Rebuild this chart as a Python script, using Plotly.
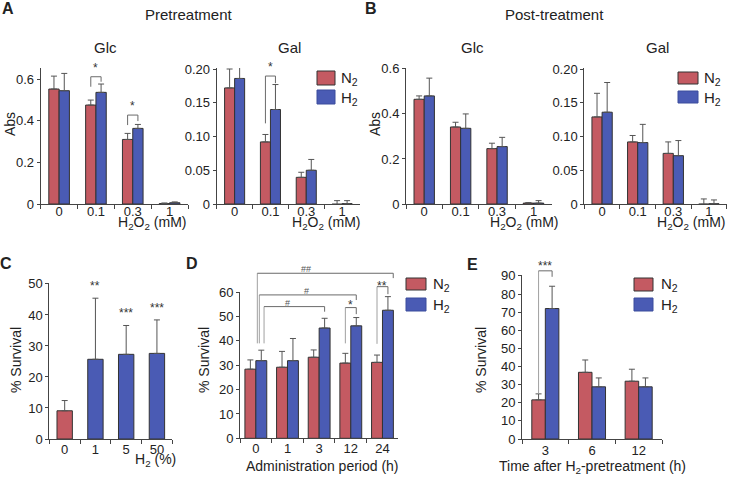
import plotly.graph_objects as go

W, H = 730, 479
FONT = "Liberation Sans, Arial, Helvetica, sans-serif"
RED = "#C45A62"
BLUE = "#4A5BB4"
EDGE = "#333333"
ERRC = "#555555"
BRC = "#6a6a6a"

# ---------------- data ----------------
h2o2_cats = ["0", "0.1", "0.3", "1"]

a_glc_n2 = [0.552, 0.475, 0.310, 0.002]
a_glc_n2_err = [0.062, 0.024, 0.029, 0.003]
a_glc_h2 = [0.544, 0.536, 0.363, 0.006]
a_glc_h2_err = [0.083, 0.040, 0.019, 0.004]

a_gal_n2 = [0.172, 0.092, 0.0395, -0.002]
a_gal_n2_err = [0.028, 0.011, 0.0075, 0.007]
a_gal_h2 = [0.186, 0.140, 0.050, 0.0005]
a_gal_h2_err = [0.017, 0.037, 0.016, 0.0045]

b_glc_n2 = [0.465, 0.342, 0.246, 0.004]
b_glc_n2_err = [0.015, 0.021, 0.024, 0.002]
b_glc_h2 = [0.480, 0.336, 0.255, 0.004]
b_glc_h2_err = [0.079, 0.064, 0.041, 0.011]

b_gal_n2 = [0.129, 0.092, 0.075, -0.0005]
b_gal_n2_err = [0.035, 0.0095, 0.017, 0.008]
b_gal_h2 = [0.136, 0.091, 0.0716, 0.0003]
b_gal_h2_err = [0.044, 0.027, 0.0224, 0.0057]

c_cats = ["0", "1", "5", "50"]
c_vals = [9.1, 25.7, 27.3, 27.6]
c_err = [3.3, 19.7, 9.3, 10.8]
c_group = ["N2", "H2", "H2", "H2"]
c_stars = ["", "**", "***", "***"]

d_cats = ["0", "1", "3", "12", "24"]
d_n2 = [28.4, 29.2, 33.3, 30.9, 31.2]
d_n2_err = [3.8, 6.5, 3.0, 4.0, 3.0]
d_h2 = [31.9, 31.9, 45.3, 46.2, 52.6]
d_h2_err = [4.3, 9.1, 4.0, 3.4, 5.6]

e_cats = ["3", "6", "12"]
e_n2 = [21.6, 36.8, 31.9]
e_n2_err = [3.3, 6.8, 6.6]
e_h2 = [72.0, 28.8, 28.8]
e_h2_err = [12.3, 4.9, 4.9]

glc_ticks = [0, 0.2, 0.4, 0.6]
glc_ticktext = ["0", "0.2", "0.4", "0.6"]
gal_ticks = [0, 0.05, 0.10, 0.15, 0.20]
gal_ticktext = ["0", "0.05", "0.10", "0.15", "0.20"]
c_ticks = [0, 10, 20, 30, 40, 50]
d_ticks = [0, 10, 20, 30, 40, 50, 60]
e_ticks = [0, 10, 20, 30, 40, 50, 60, 70, 80, 90]

# ---------------- geometry (pixels) ----------------
geo = {
    "x":  dict(x0=40.7, x1=188.0, yb=204.0, yt=68.0, top=0.653, cats=h2o2_cats, ticks=glc_ticks, tt=glc_ticktext, bw=0.28, so=-5),
    "x2": dict(x0=216.7, x1=360.0, yb=204.0, yt=68.0, top=0.2015, cats=h2o2_cats, ticks=gal_ticks, tt=gal_ticktext, bw=0.28, so=-5),
    "x3": dict(x0=406.0, x1=551.7, yb=204.0, yt=68.0, top=0.604, cats=h2o2_cats, ticks=glc_ticks, tt=glc_ticktext, bw=0.28, so=-5),
    "x4": dict(x0=584.3, x1=726.7, yb=204.0, yt=68.0, top=0.2015, cats=h2o2_cats, ticks=gal_ticks, tt=gal_ticktext, bw=0.285, so=-5),
    "x5": dict(x0=49.3, x1=172.3, yb=439.0, yt=283.0, top=50.3, cats=c_cats, ticks=c_ticks, tt=[str(v) for v in c_ticks], bw=0.5, so=-2),
    "x6": dict(x0=240.0, x1=398.3, yb=438.3, yt=292.0, top=60.1, cats=d_cats, ticks=d_ticks, tt=[str(v) for v in d_ticks], bw=0.345, so=-2),
    "x7": dict(x0=522.0, x1=662.0, yb=439.0, yt=275.0, top=90.5, cats=e_cats, ticks=e_ticks, tt=[str(v) for v in e_ticks], bw=0.29, so=-1),
}


def to_paper(ax, xi, yv):
    p = geo[ax]
    n = len(p["cats"])
    xpx = p["x0"] + (xi + 0.5) * (p["x1"] - p["x0"]) / n
    ypx = p["yb"] - yv * (p["yb"] - p["yt"]) / p["top"]
    return xpx / W, 1 - ypx / H


fig = go.Figure()


def err(arr):
    return dict(type="data", array=arr, arrayminus=[0] * len(arr), symmetric=False,
                color=ERRC, thickness=1, width=3)


def grouped(ax, n2, n2e, h2, h2e):
    p = geo[ax]
    w = p["bw"]
    ya = "y" + ax[1:]
    fig.add_trace(go.Bar(x=p["cats"], y=n2, name="N2", width=w, offset=-w,
                         marker=dict(color=RED, line=dict(color=EDGE, width=1)),
                         error_y=err(n2e), xaxis=ax, yaxis=ya, showlegend=False))
    fig.add_trace(go.Bar(x=p["cats"], y=h2, name="H2", width=w, offset=0,
                         marker=dict(color=BLUE, line=dict(color=EDGE, width=1)),
                         error_y=err(h2e), xaxis=ax, yaxis=ya, showlegend=False))


grouped("x", a_glc_n2, a_glc_n2_err, a_glc_h2, a_glc_h2_err)
grouped("x2", a_gal_n2, a_gal_n2_err, a_gal_h2, a_gal_h2_err)
grouped("x3", b_glc_n2, b_glc_n2_err, b_glc_h2, b_glc_h2_err)
grouped("x4", b_gal_n2, b_gal_n2_err, b_gal_h2, b_gal_h2_err)
grouped("x6", d_n2, d_n2_err, d_h2, d_h2_err)
grouped("x7", e_n2, e_n2_err, e_h2, e_h2_err)

cw = geo["x5"]["bw"]
fig.add_trace(go.Bar(x=c_cats, y=c_vals, width=cw, offset=-cw / 2,
                     marker=dict(color=[RED if g == "N2" else BLUE for g in c_group],
                                 line=dict(color=EDGE, width=1)),
                     error_y=err(c_err), xaxis="x5", yaxis="y5", showlegend=False))

# ---------------- axes ----------------
layout_axes = {}
for ax, p in geo.items():
    suf = ax[1:]
    n = len(p["cats"])
    layout_axes["xaxis" + suf] = dict(
        domain=[p["x0"] / W, p["x1"] / W], anchor="y" + suf, type="category",
        range=[-0.5, n - 0.5], showline=True, linecolor="#444", linewidth=1,
        ticks="outside", tickson="boundaries", ticklen=4, tickcolor="#444",
        showgrid=False, zeroline=False, automargin=False, ticklabelstandoff=p["so"],
        tickfont=dict(family=FONT, size=13, color="#222"))
    layout_axes["yaxis" + suf] = dict(
        domain=[1 - p["yb"] / H, 1 - p["yt"] / H], anchor=ax,
        range=[0, p["top"]], showline=True, linecolor="#444", linewidth=1,
        ticks="outside", ticklen=3, tickcolor="#444", showgrid=False, zeroline=False,
        automargin=False,
        tickmode="array", tickvals=p["ticks"], ticktext=p["tt"],
        tickfont=dict(family=FONT, size=13, color="#222"))

shapes = []
annotations = []


def line(x0, y0, x1, y1, color=BRC, width=1):
    shapes.append(dict(type="line", xref="paper", yref="paper", x0=x0, y0=y0, x1=x1, y1=y1,
                       line=dict(color=color, width=width)))


def bracket(ax, xl, xr, yline, ylb, yrb, lcolor=BRC):
    a = to_paper(ax, xl, yline)
    b = to_paper(ax, xr, yline)
    c = to_paper(ax, xl, ylb)
    d = to_paper(ax, xr, yrb)
    line(c[0], c[1], a[0], a[1], lcolor)
    line(a[0], a[1], b[0], b[1])
    line(b[0], b[1], d[0], d[1])


def label(ax, xi, yv, text, size=12, shift=-3, color="#333"):
    x, y = to_paper(ax, xi, yv)
    annotations.append(dict(xref="paper", yref="paper", x=x, y=y, text=text, showarrow=False,
                            xanchor="center", yanchor="bottom", yshift=shift,
                            font=dict(family=FONT, size=size, color=color)))


def text(t, xpx, ypx, size=14, bold=False, angle=0, xanchor="center", color="#222"):
    annotations.append(dict(xref="paper", yref="paper", x=xpx / W, y=1 - ypx / H,
                            text=("<b>%s</b>" % t) if bold else t, showarrow=False,
                            xanchor=xanchor, yanchor="middle", textangle=angle,
                            font=dict(family=FONT, size=size, color=color)))


# significance brackets
bracket("x", 1 - 0.14, 1 + 0.14, 0.611, 0.563, 0.587)
label("x", 1, 0.611, "*", shift=0)
bracket("x", 2 - 0.14, 2 + 0.14, 0.427, 0.379, 0.398)
label("x", 2, 0.427, "*", shift=0)
bracket("x2", 1 - 0.14, 1 + 0.14, 0.1896, 0.1195, 0.179)
label("x2", 1, 0.1896, "*", shift=0)

for i, s in enumerate(c_stars):
    if s:
        label("x5", i, c_vals[i] + c_err[i], s, size=12, shift=3)

LG = "#a0a0a0"
bracket("x6", 0.047, 4.34, 67.8, 39.0, 65.8, lcolor=LG)
label("x6", 1.6, 67.8, "##", size=9, shift=-3, color="#555")
bracket("x6", 0.11, 3.1725, 58.9, 39.0, 56.8, lcolor=LG)
label("x6", 1.6, 58.9, "#", size=9, shift=-3, color="#555")
bracket("x6", 0.26, 2.1725, 54.1, 39.0, 52.0, lcolor=LG)
label("x6", 1.0, 54.1, "#", size=9, shift=-3, color="#555")
bracket("x6", 2.8275, 3.1725, 53.7, 39.0, 51.0, lcolor=LG)
label("x6", 3.0, 53.7, "*", size=12, shift=-6)
bracket("x6", 3.8275, 4.1725, 62.3, 38.8, 59.2, lcolor=LG)
label("x6", 4.0, 62.3, "**", size=12, shift=-8)

bracket("x7", -0.145, 0.145, 92.8, 25.2, 89.5, lcolor=LG)
label("x7", 0, 92.8, "***", size=12, shift=-4)

# panel letters and titles
text("A", 8, 9, 16, bold=True)
text("Pretreatment", 189, 15, 15)
text("B", 371, 9, 16, bold=True)
text("Post-treatment", 554, 15, 15)
text("Glc", 106, 48, 15)
text("Gal", 289, 48, 15)
text("Glc", 473, 48, 15)
text("Gal", 657, 48, 15)
text("Abs", 10, 124, 14, angle=-90)
text("Abs", 375, 124, 14, angle=-90)
for xc in (152, 326, 524, 691):
    text("H<sub>2</sub>O<sub>2</sub> (mM)", xc, 223, 14)

text("C", 6, 263, 16, bold=True)
text("D", 192, 263, 16, bold=True)
text("E", 472, 264, 16, bold=True)
text("% Survival", 16, 360, 14, angle=-90)
text("% Survival", 204, 360, 14, angle=-90)
text("% Survival", 481, 360, 14, angle=-90)
text("H<sub>2</sub> (%)", 155, 460, 14)
text("Administration period (h)", 322, 466, 14)
text("Time after H<sub>2</sub>-pretreatment (h)", 592, 467, 14)


# legends (boxes + labels)
def legend(x0, x1, ry0, ry1, by0, by1, tx, ty1, ty2):
    shapes.append(dict(type="rect", xref="paper", yref="paper", x0=x0 / W, x1=x1 / W,
                       y0=1 - ry1 / H, y1=1 - ry0 / H, fillcolor=RED, line=dict(color=EDGE, width=1)))
    shapes.append(dict(type="rect", xref="paper", yref="paper", x0=x0 / W, x1=x1 / W,
                       y0=1 - by1 / H, y1=1 - by0 / H, fillcolor=BLUE, line=dict(color="#3b4c9c", width=1)))
    text("N<sub>2</sub>", tx, ty1, 15, xanchor="left")
    text("H<sub>2</sub>", tx, ty2, 15, xanchor="left")


legend(317, 335, 71, 85, 90, 104, 339, 78, 98)
legend(678, 698, 72, 84, 91, 103, 702, 78, 98)
legend(406, 426, 278, 290, 298, 311, 431, 284, 305)
legend(634, 653, 278, 291, 298, 311, 659, 284, 305)

fig.update_layout(
    width=W, height=H, margin=dict(l=0, r=0, t=0, b=0, pad=0, autoexpand=False),
    paper_bgcolor="white", plot_bgcolor="white",
    barmode="group", showlegend=False,
    font=dict(family=FONT, size=13, color="#222"),
    shapes=shapes, annotations=annotations,
    **layout_axes,
)

fig.write_html("out.html",
               config={"displayModeBar": False, "staticPlot": True},
               post_script="document.body.style.margin='0px';document.body.style.padding='0px';"
                           "document.body.style.overflow='hidden';")
